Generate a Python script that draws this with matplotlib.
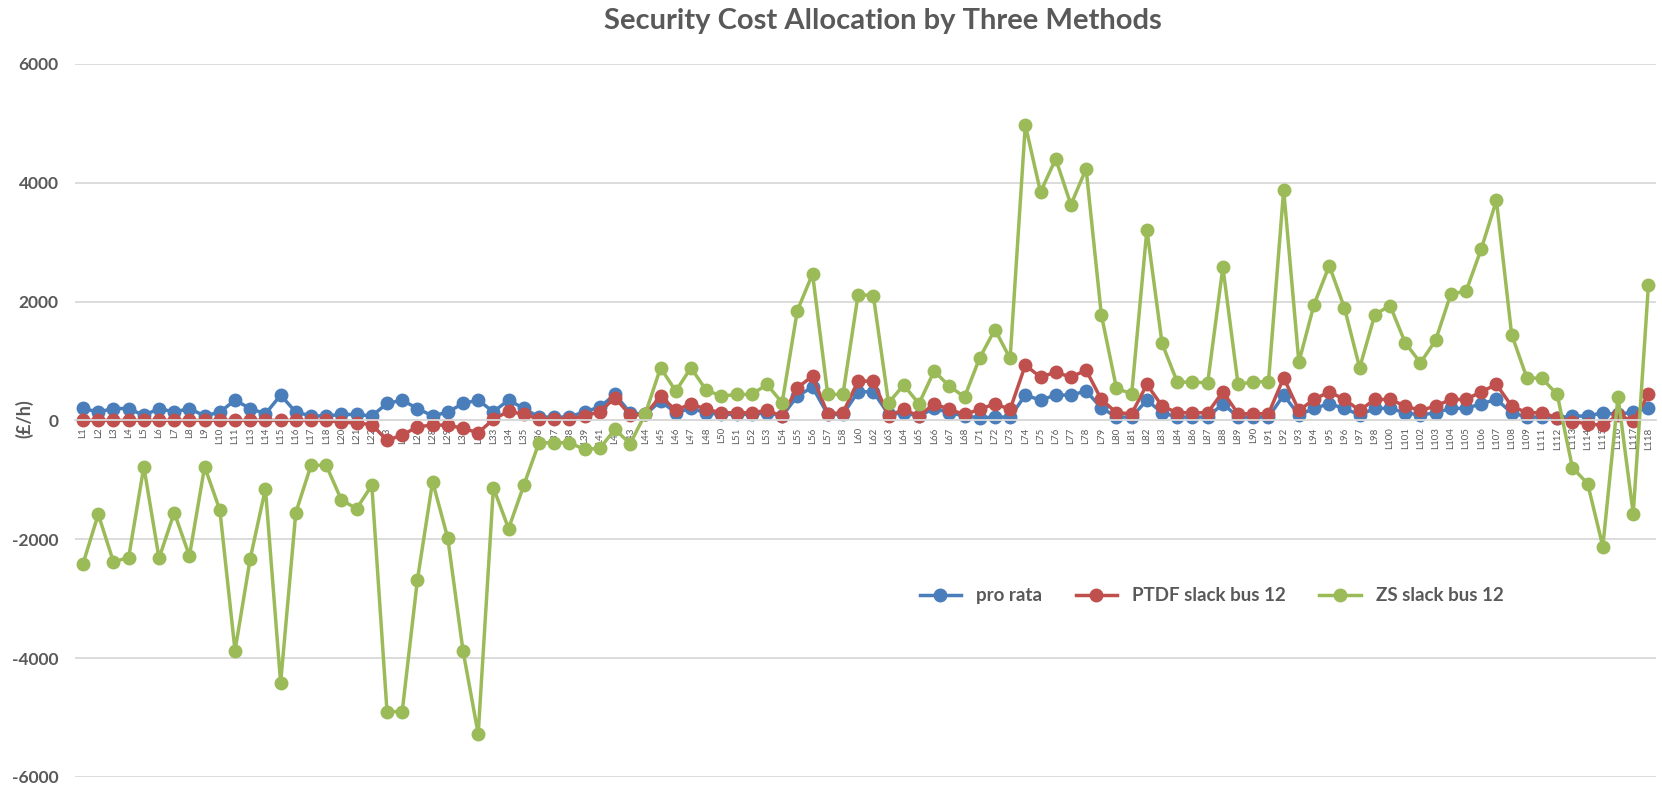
import matplotlib
matplotlib.use("Agg")
import matplotlib.pyplot as plt

# Line numbers shown on the category axis
line_ids = [1, 2, 3, 4, 5, 6, 7, 8, 9, 10, 11, 13, 14, 15, 16, 17, 18, 20, 21, 22,
            23, 24, 26, 28, 29, 31, 32, 33, 34, 35, 36, 37, 38, 39, 41, 42, 43, 44, 45, 46,
            47, 48, 50, 51, 52, 53, 54, 55, 56, 57, 58, 60, 62, 63, 64, 65, 66, 67, 68, 71,
            72, 73, 74, 75, 76, 77, 78, 79, 80, 81, 82, 83, 84, 86, 87, 88, 89, 90, 91, 92,
            93, 94, 95, 96, 97, 98, 100, 101, 102, 103, 104, 105, 106, 107, 108, 109, 111, 112, 113, 114,
            115, 116, 117, 118]
labels = ["L%d" % n for n in line_ids]

# cost allocation, GBP/h
pro_rata = [202, 140, 200, 200, 84, 200, 140, 200, 75, 140, 340, 200, 110, 425, 140, 75, 75, 100, 100, 75,
            285, 340, 200, 75, 140, 285, 340, 146, 342, 202, 56, 56, 56, 146, 224, 437, 129, 100, 325, 129,
            202, 129, 100, 100, 100, 129, 73, 409, 560, 100, 100, 482, 482, 100, 129, 73, 202, 129, 73, 45,
            56, 56, 426, 342, 426, 426, 493, 213, 56, 56, 342, 129, 56, 56, 56, 280, 56, 56, 56, 426,
            90, 202, 280, 202, 90, 202, 202, 129, 90, 129, 202, 202, 280, 353, 129, 56, 56, 45, 73, 73,
            129, 100, 140, 213]
ptdf_12 = [0, 0, 0, 0, 0, 0, 0, 0, 0, 0, 0, 0, 0, 0, 0, 0, 0, -30, -45, -70,
           -336, -247, -107, -79, -79, -134, -208, 17, 157, 100, 28, 28, 28, 73, 146, 381, 90, 100, 409, 168,
           280, 185, 129, 129, 129, 168, 73, 549, 745, 112, 129, 661, 661, 73, 185, 73, 280, 185, 100, 185,
           280, 185, 930, 728, 812, 728, 846, 353, 129, 112, 605, 241, 129, 129, 129, 482, 112, 112, 112, 717,
           168, 353, 482, 353, 168, 353, 353, 241, 168, 241, 353, 353, 482, 605, 241, 129, 129, 45, -22, -56,
           -84, 90, -11, 437]
zs_12 = [-2409, -1580, -2380, -2308, -779, -2320, -1552, -2280, -779, -1507, -3876, -2325, -1149, -4418, -1552, -756, -756, -1339, -1485, -1092,
         -4900, -4900, -2683, -1031, -1982, -3876, -5275, -1132, -1821, -1092, -376, -376, -376, -487, -470, -151, -392, 112, 885, 493,
         885, 510, 409, 437, 437, 605, 297, 1848, 2464, 437, 437, 2117, 2100, 297, 594, 280, 829, 577, 392, 1053,
         1529, 1042, 4973, 3842, 4402, 3629, 4234, 1781, 538, 448, 3209, 1294, 644, 644, 633, 2576, 605, 650, 650, 3881,
         980, 1949, 2604, 1893, 885, 1781, 1932, 1305, 969, 1350, 2128, 2173, 2884, 3702, 1445, 717, 706, 437, -795, -1064,
         -2122, 398, -1568, 2274]

series = [("pro rata", pro_rata, "#4a7ebb"),
          ("PTDF slack bus 12", ptdf_12, "#c0504d"),
          ("ZS slack bus 12", zs_12, "#9bbb59")]

plt.rcParams["font.family"] = ["Lato", "DejaVu Sans"]
plt.rcParams["axes.unicode_minus"] = False
text_col = "#595959"

fig = plt.figure(figsize=(16.62, 7.88), dpi=100)
ax = fig.add_axes([0.0454, 0.014, 0.951, 0.905])

x = list(range(len(labels)))
for name, vals, col in series:
    ax.plot(x, vals, "-o", color=col, lw=2.5, ms=9, label=name)

ax.set_xlim(-0.5, len(labels) - 0.5)
ax.set_ylim(-6000, 6000)
ax.set_yticks(range(-6000, 6001, 2000))
ax.yaxis.grid(True, color="#d9d9d9", lw=1.3)
ax.set_axisbelow(True)

for s in ["top", "right", "left"]:
    ax.spines[s].set_visible(False)
ax.spines["bottom"].set_position(("data", 0))
ax.spines["bottom"].set_color("#d9d9d9")
ax.spines["bottom"].set_linewidth(1.3)

ax.set_xticks(x)
ax.set_xticklabels(labels, rotation=90, fontsize=7, color=text_col)
ax.tick_params(axis="x", length=0, pad=5)
ax.tick_params(axis="y", length=0, pad=12, labelsize=12.5, labelcolor=text_col)
for t in ax.get_yticklabels():
    t.set_fontweight("bold")

fig.text(24 / 1662, 1 - 419 / 788, "(£/h)", rotation=90, ha="center", va="center",
         fontsize=13, fontweight="bold", color=text_col)

fig.suptitle("Security Cost Allocation by Three Methods", x=0.531, y=0.99,
             fontsize=21, fontweight="bold", color=text_col)

ax.legend(loc="center", bbox_to_anchor=(0.729, 0.244), bbox_transform=fig.transFigure,
          ncol=3, frameon=False, columnspacing=1.8, handlelength=2.2,
          labelcolor=text_col, prop={"weight": "bold", "size": 13.5})

fig.savefig("out.png", dpi=100)
